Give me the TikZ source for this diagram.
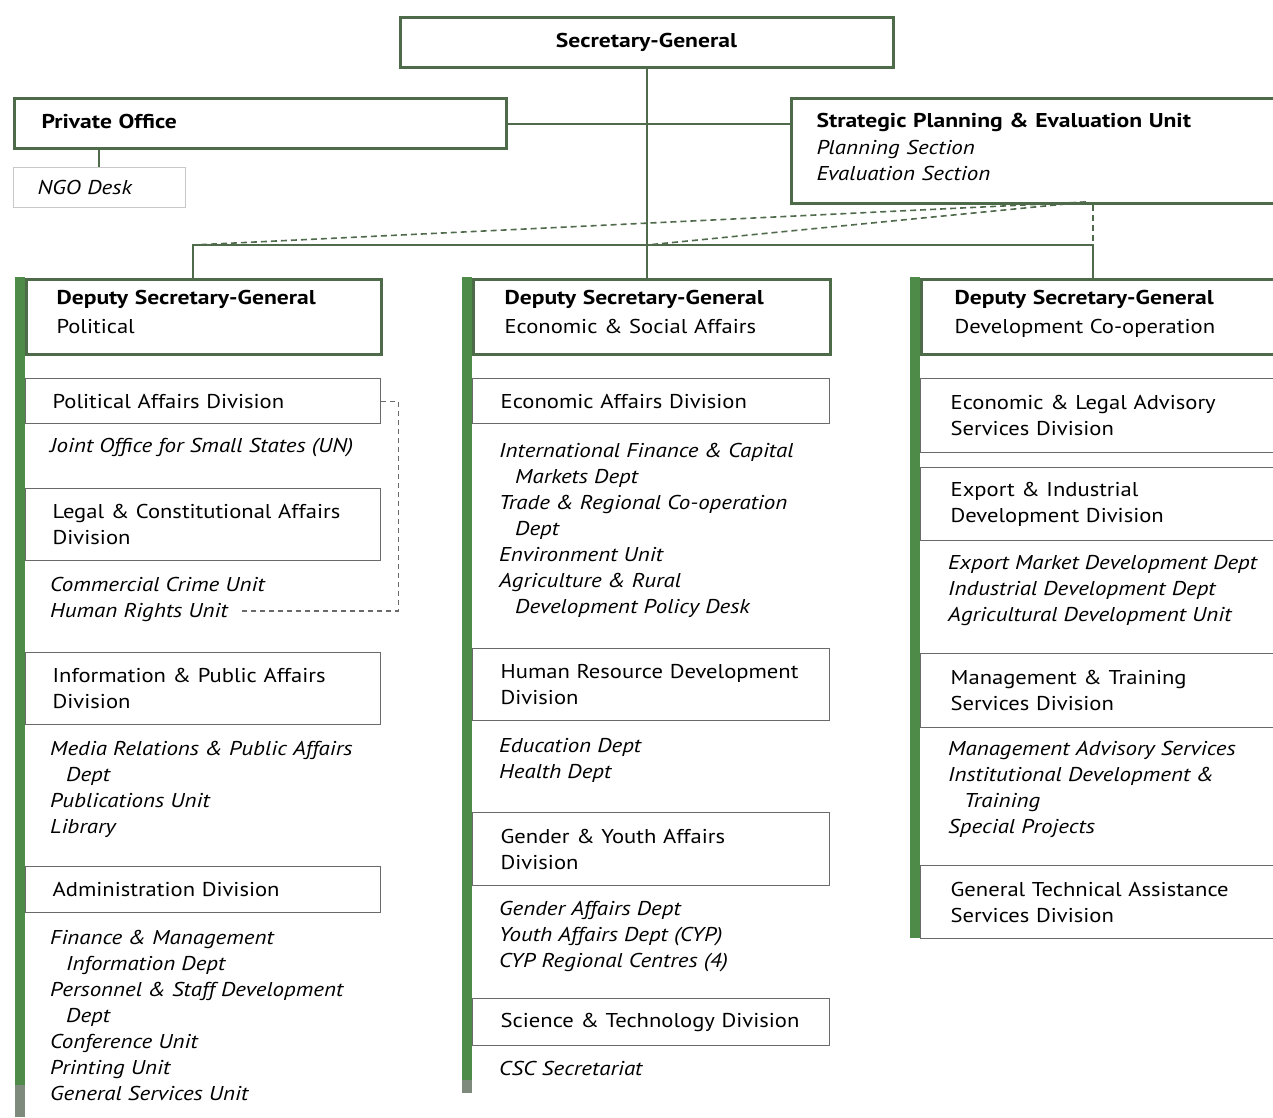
\documentclass[tikz,border=0pt]{standalone}
\usepackage{fontspec}
\setmainfont{PT Sans}[FakeStretch=1.13, BoldFeatures={FakeStretch=1.18}, ItalicFeatures={FakeStretch=1.15}]
\definecolor{bordgreen}{HTML}{4D6A49}
\definecolor{bargreen}{HTML}{4F8B48}
\definecolor{conngreen}{HTML}{4F6B4C}
\definecolor{divgray}{HTML}{6A6A6A}
\definecolor{ngogray}{HTML}{C8C8C8}
\definecolor{barend}{HTML}{7E8A7B}
\newcommand{\tl}[1]{\begin{tabular}[t]{@{}l@{}}#1\end{tabular}}
\newcommand{\ind}{\hspace*{16pt}}
\begin{document}
\begin{tikzpicture}[x=1pt,y=-1pt,
  font=\fontsize{20}{26}\selectfont,
  every node/.style={inner ysep=0pt, align=left},
  topbox/.style={draw=bordgreen, line width=3pt, fill=white},
  dsgbox/.style={draw=bordgreen, line width=3pt, fill=white, anchor=north west, minimum height=75pt},
  divbox/.style={draw=divgray, line width=1.3pt, fill=white, anchor=north west},
  ngobox/.style={draw=ngogray, line width=1.2pt, fill=white, anchor=north west},
  lst/.style={anchor=base west, inner sep=0pt, font=\fontsize{20}{26}\selectfont\itshape},
  conn/.style={draw=conngreen, line width=2pt},
  dconn/.style={draw=conngreen, line width=1.6pt, dash pattern=on 6pt off 4pt},
  dgray/.style={draw=divgray, line width=1.2pt, dash pattern=on 5pt off 4pt}]
\useasboundingbox (0,0) rectangle (1273,1117);
\fill[white] (0,0) rectangle (1273,1117);

% ---------- top level ----------
\node[topbox, minimum width=493pt, minimum height=50pt] (sg) at (646.5,42) {\textbf{Secretary-General}};
\node[topbox, anchor=north west, inner xsep=27pt, text width=438pt, minimum height=50pt] (po) at (13,97) {\textbf{Private Office}\\[-22pt]\mbox{}};
\node[ngobox, inner xsep=24pt, text width=124pt, minimum height=40pt] (ngo) at (13,167) {\textit{NGO Desk}};
\node[topbox, anchor=north west, inner xsep=25pt, text width=460pt, minimum height=105pt] (sp) at (790,97)
  {\textbf{Strategic Planning \& Evaluation Unit}\\[1pt]\textit{Planning Section}\\\textit{Evaluation Section}\\[-18pt]\mbox{}};

% ---------- columns: DSG boxes ----------
\node[dsgbox, inner xsep=30pt, text width=295pt] (dsgA) at (25,278) {\textbf{Deputy Secretary-General}\\[3pt]Political\\[-15pt]\mbox{}};
\node[dsgbox, inner xsep=31pt, text width=295pt] (dsgB) at (472,278) {\textbf{Deputy Secretary-General}\\[3pt]Economic \& Social Affairs\\[-15pt]\mbox{}};
\node[dsgbox, inner xsep=33pt, text width=304pt] (dsgC) at (920,278) {\textbf{Deputy Secretary-General}\\[3pt]Development Co-operation\\[-15pt]\mbox{}};

% ---------- left column ----------
\node[divbox, inner xsep=27pt, text width=301pt, minimum height=45pt] (pad) at (25,378) {Political Affairs Division};
\node[lst] (l1) at (50,452) {Joint Office for Small States (UN)};
\node[divbox, inner xsep=27pt, text width=301pt, minimum height=72pt] (lca) at (25,488) {Legal \& Constitutional Affairs\\Division};
\node[lst] (l2) at (50,591) {\tl{Commercial Crime Unit\\Human Rights Unit}};
\node[divbox, inner xsep=27pt, text width=301pt, minimum height=72pt] (ipa) at (25,652) {Information \& Public Affairs\\Division};
\node[lst] (l3) at (50,755) {\tl{Media Relations \& Public Affairs\\\ind Dept\\Publications Unit\\Library}};
\node[divbox, inner xsep=27pt, text width=301pt, minimum height=46pt] (adm) at (25,866) {Administration Division};
\node[lst] (l4) at (50,944) {\tl{Finance \& Management\\\ind Information Dept\\Personnel \& Staff Development\\\ind Dept\\Conference Unit\\Printing Unit\\General Services Unit}};

% ---------- middle column ----------
\node[divbox, inner xsep=28pt, text width=301pt, minimum height=45pt] (ead) at (472,378) {Economic Affairs Division};
\node[lst] (m1) at (499,457) {\tl{International Finance \& Capital\\\ind Markets Dept\\Trade \& Regional Co-operation\\\ind Dept\\Environment Unit\\Agriculture \& Rural\\\ind Development Policy Desk}};
\node[divbox, inner xsep=28pt, text width=301pt, minimum height=72pt] (hrd) at (472,648) {Human Resource Development\\Division};
\node[lst] (m2) at (499,752) {\tl{Education Dept\\Health Dept}};
\node[divbox, inner xsep=28pt, text width=301pt, minimum height=73pt] (gya) at (472,812) {Gender \& Youth Affairs\\Division};
\node[lst] (m3) at (499,915) {\tl{Gender Affairs Dept\\Youth Affairs Dept (CYP)\\CYP Regional Centres (4)}};
\node[divbox, inner xsep=28pt, text width=301pt, minimum height=47pt] (std) at (472,998) {Science \& Technology Division};
\node[lst] (m4) at (499,1075) {CSC Secretariat};

% ---------- right column ----------
\node[divbox, inner xsep=30pt, text width=310pt, minimum height=74pt] (ela) at (920,378) {Economic \& Legal Advisory\\Services Division};
\node[divbox, inner xsep=30pt, text width=310pt, minimum height=73pt] (eid) at (920,467) {Export \& Industrial\\Development Division};
\node[lst] (r1) at (948,569) {\tl{Export Market Development Dept\\Industrial Development Dept\\Agricultural Development Unit}};
\node[divbox, inner xsep=30pt, text width=310pt, minimum height=74pt] (mts) at (920,653) {Management \& Training\\Services Division};
\node[lst] (r2) at (948,755) {\tl{Management Advisory Services\\Institutional Development \&\\\ind Training\\Special Projects}};
\node[divbox, inner xsep=30pt, text width=310pt, minimum height=73pt] (gta) at (920,865) {General Technical Assistance\\Services Division};

% ---------- green bars ----------
\fill[bargreen] (15,276.5) rectangle (25,1085);
\fill[barend] (15,1085) rectangle (25,1117);
\fill[bargreen] (462,276.5) rectangle (472,1080);
\fill[barend] (462,1080) rectangle (472,1093);
\fill[bargreen] (910,276.5) rectangle (920,938);

% ---------- connectors ----------
\coordinate (busL) at (193,245);
\coordinate (busM) at (647,245);
\coordinate (busR) at (1093,245);
\coordinate (spd) at (1086,202);
\draw[conn] (sg.south -| busM) -- (dsgB.north -| busM);
\draw[conn] (po.east) -- (po.east -| sp.west);
\draw[conn] (ngo.north -| 99,0) -- (po.south -| 99,0);
\draw[conn] (dsgA.north -| busL) -- (busL) -- (busR) -- (dsgC.north -| busR);
\draw[dconn] (spd) -- (busL);
\draw[dconn] (spd) -- (busM);
\draw[dconn] (sp.south -| busR) -- (busR);
\coordinate (hr) at (240,611);
\draw[dgray] (pad.east) -- ++(17,0) |- (hr);
\end{tikzpicture}
\end{document}
